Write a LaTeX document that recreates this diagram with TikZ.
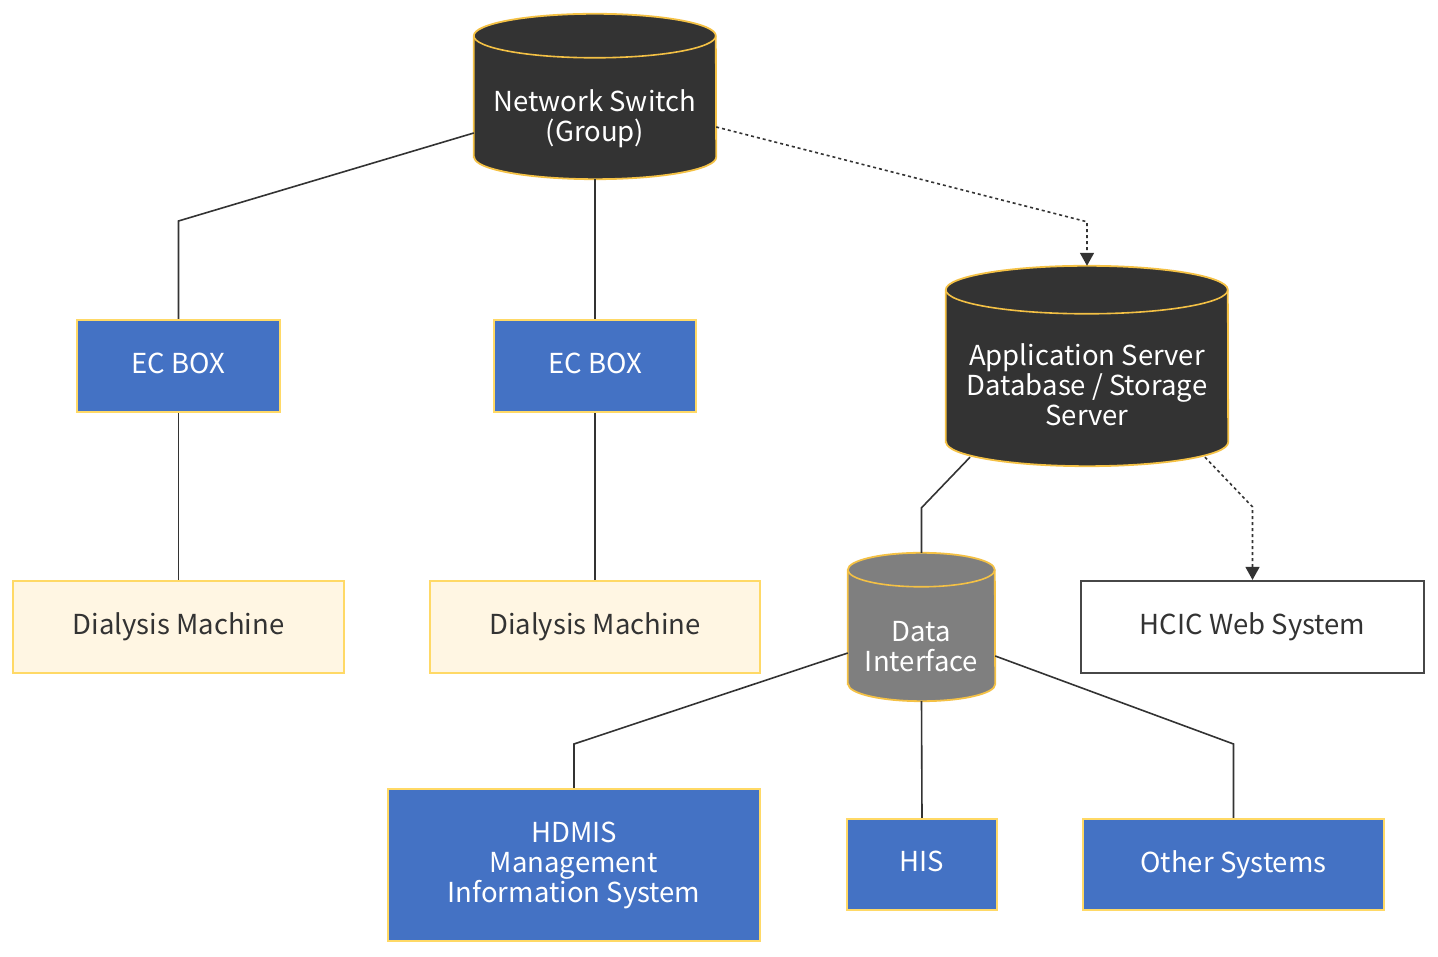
\documentclass[tikz,border=0pt]{standalone}
\usepackage{fontspec}
\setmainfont{Noto Sans CJK SC}
\usetikzlibrary{calc,arrows.meta,backgrounds}
\definecolor{boxblue}{HTML}{4472C4}
\definecolor{gold}{HTML}{FFD966}
\definecolor{cylgold}{HTML}{F4C145}
\definecolor{darkcyl}{HTML}{333333}
\definecolor{graycyl}{HTML}{7F7F7F}
\definecolor{cream}{HTML}{FFF6E3}
\definecolor{ink}{HTML}{333333}
\tikzset{
  every node/.style={font=\fontsize{27.5}{30}\selectfont, align=center, inner sep=0pt},
  bluebox/.style={draw=gold, line width=2pt, fill=boxblue, text=white},
  creambox/.style={draw=gold, line width=2pt, fill=cream, text=ink},
  whitebox/.style={draw=ink!90, line width=2.2pt, fill=white, text=ink},
  cyltext/.style={text=white},
  nodesc/.style={text depth=6pt},
  link/.style={draw=ink, line width=1.6pt},
  dlink/.style={draw=ink, line width=1.6pt, dash pattern=on 3pt off 3pt, -{Triangle[width=14pt,length=13pt]}},
}
% #1 node name, #2 half width, #3 ellipse y radius, #4 fill colour
\newcommand\drawcyl[4]{%
  \begin{pgfonlayer}{background}
  \draw[draw=cylgold, line width=1.8pt, fill=#4]
    ($(#1.south west)+(0,#3)$) -- ($(#1.north west)+(0,#3)$)
    arc[start angle=180, end angle=0, x radius=#2pt, y radius=#3pt]
    -- ($(#1.south east)+(0,#3)$)
    arc[start angle=0, end angle=-180, x radius=#2pt, y radius=#3pt] -- cycle;
  \draw[draw=cylgold, line width=1.6pt]
    ($(#1.north west)+(0,#3)$) arc[start angle=180, end angle=360, x radius=#2pt, y radius=#3pt];
  \end{pgfonlayer}}
\begin{document}
\begin{tikzpicture}[x=1pt, y=1pt]
\useasboundingbox (0,0) rectangle (1438,956);
% cylinders (node = body below the top ellipse)
\node[cyltext, minimum width=242pt, minimum height=121pt] (ns) at (595,837.5) {Network Switch\\(Group)};
\node[cyltext, text depth=10pt, minimum width=282pt, minimum height=152pt] (app) at (1087,566) {Application Server\\Database / Storage\\Server};
\node[cyltext, minimum width=147pt, minimum height=114pt] (di) at (921.5,312) {\rule{0pt}{26pt}Data\\Interface};
% boxes
\node[bluebox, nodesc, minimum width=203pt, minimum height=92pt] (ec1) at (178.5,590) {EC BOX};
\node[bluebox, nodesc, minimum width=202pt, minimum height=92pt] (ec2) at (595,590) {EC BOX};
\node[creambox, minimum width=331pt, minimum height=92pt] (dm1) at (178.5,329) {Dialysis Machine};
\node[creambox, minimum width=330pt, minimum height=92pt] (dm2) at (595,329) {Dialysis Machine};
\node[whitebox, minimum width=343pt, minimum height=92pt] (hcic) at (1252.5,329) {HCIC Web System};
\node[bluebox, minimum width=372pt, minimum height=152pt] (hdmis) at (574,91) {HDMIS\\Management\\Information System};
\node[bluebox, nodesc, minimum width=150pt, minimum height=91pt] (his) at (922,91.5) {HIS};
\node[bluebox, minimum width=301pt, minimum height=91pt] (other) at (1233.5,91.5) {Other Systems};
\drawcyl{ns}{121}{22}{darkcyl}
\drawcyl{app}{141}{24}{darkcyl}
\drawcyl{di}{73.5}{17}{graycyl}
\coordinate (apptop) at ($(app.north)+(0,48)$);
\coordinate (ditop) at ($(di.north)+(0,34)$);
% connectors
\begin{pgfonlayer}{background}
\draw[link] ($(ns.west)+(0,-14.5)$) -- ($(ec1.north)+(0,98)$) -- (ec1.north);
\draw[link] (ns.south) -- (ec2.north);
\draw[link] (ec1.south) -- (dm1.north);
\draw[link] (ec2.south) -- (dm2.north);
\draw[link] ($(app.south)+(-117,9)$) -- ($(ditop)+(0,45)$) -- (ditop);
\draw[link] ($(di.west)+(0,-9)$) -- ($(hdmis.north)+(0,44)$) -- (hdmis.north);
\draw[link] (di.south) -- (his.north);
\draw[link] ($(di.east)+(0,-12)$) -- ($(other.north)+(0,74)$) -- (other.north);
\end{pgfonlayer}
\draw[dlink] ($(ns.east)+(0,-8.5)$) -- ($(apptop)+(0,44)$) -- (apptop);
\draw[dlink] ($(app.south)+(118,9)$) -- ($(hcic.north)+(0,73)$) -- (hcic.north);
\end{tikzpicture}
\end{document}
